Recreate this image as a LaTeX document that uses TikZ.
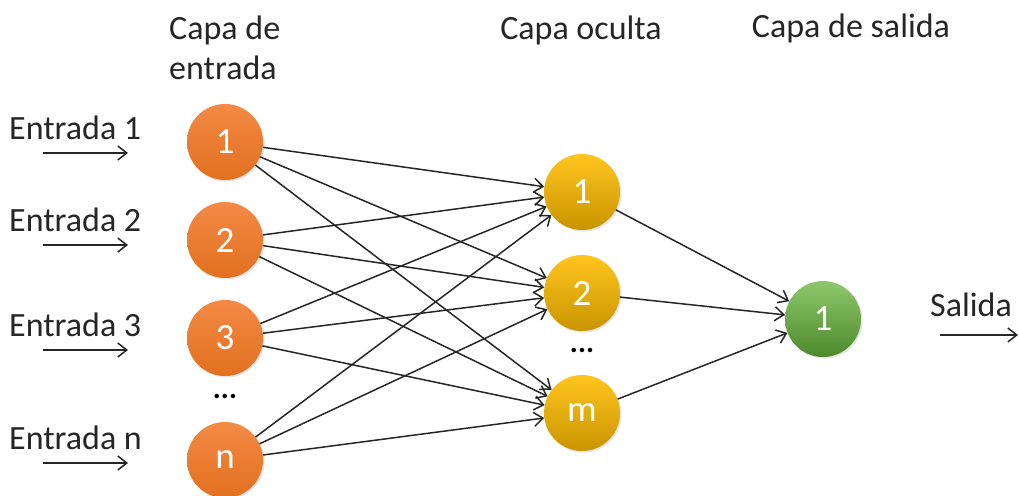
\documentclass[tikz,border=0pt]{standalone}
\usepackage{fontspec}
\setmainfont{Carlito}
\usetikzlibrary{arrows.meta,shadows}
\definecolor{orgtop}{HTML}{F38A45}
\definecolor{orgbot}{HTML}{E2701F}
\definecolor{yeltop}{HTML}{FFC51F}
\definecolor{yelbot}{HTML}{C99400}
\definecolor{grntop}{HTML}{8FC76C}
\definecolor{grnbot}{HTML}{4C8A2C}
\begin{document}
\begin{tikzpicture}[x=1pt,y=-1pt,
  neuron/.style={circle,minimum size=76pt,inner sep=0pt,text=white,
    font=\fontsize{37}{40}\selectfont,shading=axis,shading angle=0,
    drop shadow={opacity=0.22,shadow xshift=1.5pt,shadow yshift=-1.5pt}},
  inneuron/.style={neuron,top color=orgtop,bottom color=orgbot},
  hidneuron/.style={neuron,top color=yeltop,bottom color=yelbot},
  outneuron/.style={neuron,top color=grntop,bottom color=grnbot},
  label/.style={font=\fontsize{34}{40}\selectfont,text=black!85,inner sep=0pt},
  tip/.style={-{Straight Barb[length=9pt,width=14pt,line width=1.5pt]}},
  conn/.style={draw=black!85,line width=1.5pt,tip},
  dots/.style={font=\fontsize{30}{30}\selectfont\bfseries,inner sep=0pt}]
\useasboundingbox (0,0) rectangle (1019,495);

% column headers
\node[label,anchor=west,align=left] (h1) at (169,48) {Capa de\\entrada};
\node[label] (h2) at (581,30) {Capa oculta};
\node[label] (h3) at (851,28) {Capa de salida};

% input layer
\node[inneuron] (i1) at (225,142) {1};
\node[inneuron] (i2) at (225,240) {2};
\node[inneuron] (i3) at (225,338) {3};
\node[inneuron] (in) at (225,460) {n};
\node[dots] (idots) at (225,396) {...};

% hidden layer
\node[hidneuron] (h1n) at (582,192) {1};
\node[hidneuron] (h2n) at (582,293) {2};
\node[hidneuron] (hmn) at (582,413) {m};
\node[dots] (hdots) at (582,350) {...};

% output layer
\node[outneuron] (o1) at (823,319) {1};

% input labels and arrows
\foreach \k/\t/\y in {1/1/128,2/2/220,3/3/325,4/n/438}{
  \node[label,anchor=west] (e\k) at (9,\y) {Entrada \t};
  \coordinate (ea\k) at (43,\y+25);
  \coordinate (eb\k) at (128,\y+25);
  \draw[conn] (ea\k) -- (eb\k);
}

% output label and arrow
\node[label,anchor=west] (sal) at (930,305) {Salida};
\coordinate (sa) at (940,335);
\coordinate (sb) at (1018,335);
\draw[conn] (sa) -- (sb);

% input -> hidden connections
\foreach \a in {i1,i2,i3,in}{
  \foreach \b in {h1n,h2n,hmn}{
    \draw[conn] (\a) -- (\b);
  }
}
% hidden -> output connections
\foreach \b in {h1n,h2n,hmn}{
  \draw[conn] (\b) -- (o1);
}
\end{tikzpicture}
\end{document}
